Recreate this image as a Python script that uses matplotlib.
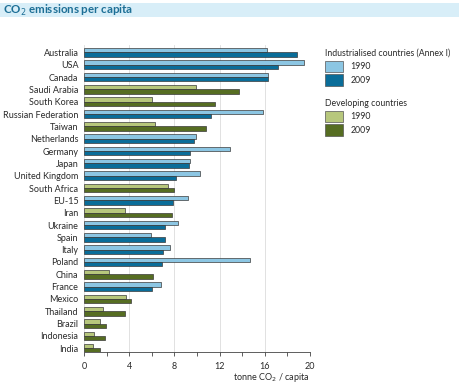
import matplotlib
matplotlib.use('Agg')
import matplotlib.pyplot as plt
import matplotlib.patches as mpatches
import numpy as np

plt.rcParams['font.family'] = ['Lato', 'DejaVu Sans']

# --- DATA ---
countries = ['Australia', 'USA', 'Canada', 'Saudi Arabia', 'South Korea', 'Russian Federation',
             'Taiwan', 'Netherlands', 'Germany', 'Japan', 'United Kingdom', 'South Africa',
             'EU-15', 'Iran', 'Ukraine', 'Spain', 'Italy', 'Poland', 'China', 'France',
             'Mexico', 'Thailand', 'Brazil', 'Indonesia', 'India']
developing = ['Saudi Arabia', 'South Korea', 'Taiwan', 'South Africa', 'Iran', 'China',
              'Mexico', 'Thailand', 'Brazil', 'Indonesia', 'India']
values_1990 = [16.2, 19.5, 16.3, 9.9, 6.0, 15.8, 6.3, 9.9, 12.9, 9.4, 10.3, 7.4,
               9.2, 3.6, 8.3, 5.9, 7.6, 14.7, 2.2, 6.8, 3.7, 1.7, 1.45, 0.9, 0.8]
values_2009 = [18.85, 17.2, 16.3, 13.7, 11.6, 11.2, 10.8, 9.7, 9.35, 9.3, 8.1, 8.0,
               7.9, 7.75, 7.2, 7.2, 7.0, 6.9, 6.1, 6.0, 4.2, 3.6, 1.95, 1.85, 1.45]

IND_1990, IND_2009 = '#8cc6e3', '#0a6d99'
DEV_1990, DEV_2009 = '#b7c77c', '#566d22'
EDGE = '#3a3a3a'
TITLE_COL = '#1d6f96'
TXT = '#2a2a2a'
FS = 6.5
LFS = 6.3

fig = plt.figure(figsize=(4.6, 3.92), dpi=100)

# title band
fig.patches.append(mpatches.Rectangle((0, 1 - 17 / 392), 1, 14 / 392, transform=fig.transFigure,
                                      facecolor='#d8eef8', edgecolor='none'))
fig.text(0.007, 1 - 10 / 392, 'CO$_2$ emissions per capita', fontsize=8.3, fontweight='bold',
         color=TITLE_COL, va='center', ha='left')

ax = fig.add_axes([84 / 460, 1 - 352 / 392, 226 / 460, 307 / 392])

n = len(countries)
ypos = np.arange(n)[::-1]
h = 0.36
c90 = [DEV_1990 if c in developing else IND_1990 for c in countries]
c09 = [DEV_2009 if c in developing else IND_2009 for c in countries]
ax.barh(ypos + h / 2, values_1990, height=h, color=c90, edgecolor=EDGE, linewidth=0.5)
ax.barh(ypos - h / 2, values_2009, height=h, color=c09, edgecolor=EDGE, linewidth=0.5)

ax.set_xlim(0, 20)
ax.set_ylim(-0.3, n - 1 + 0.6)
ax.set_yticks(ypos)
ax.set_yticklabels(countries, fontsize=FS, color=TXT)
ax.tick_params(axis='y', length=0, pad=4)
ax.set_xticks([0, 4, 8, 12, 16, 20])
ax.set_xticks([2, 6, 10, 14, 18], minor=True)
ax.tick_params(axis='x', which='both', direction='out', length=3, width=0.6,
               color='#444444', labelsize=FS, labelcolor=TXT, pad=4)
ax.grid(axis='x', color='#dcdcdc', linewidth=0.6)
ax.set_axisbelow(True)
for s in ['top', 'right', 'left']:
    ax.spines[s].set_visible(False)
ax.spines['bottom'].set_color('#444444')
ax.spines['bottom'].set_linewidth(0.6)

fig.text(310 / 460, 1 - 377 / 392, 'tonne CO$_2$ / capita', fontsize=FS, color=TXT,
         ha='right', va='center')

# legends
def patch(col):
    return mpatches.Patch(facecolor=col, edgecolor='#555555', linewidth=0.5)

common = dict(loc='upper left', frameon=False, fontsize=LFS, title_fontsize=LFS,
              alignment='left', handlelength=2.0, handleheight=1.6,
              labelspacing=0.3, handletextpad=0.9, borderaxespad=0, borderpad=0)
leg1 = fig.legend([patch(IND_1990), patch(IND_2009)], ['1990', '2009'],
                  title='Industrialised countries (Annex I)',
                  bbox_to_anchor=(325 / 460, 1 - 49 / 392), **common)
leg2 = fig.legend([patch(DEV_1990), patch(DEV_2009)], ['1990', '2009'],
                  title='Developing countries',
                  bbox_to_anchor=(325 / 460, 1 - 99 / 392), **common)
for lg in (leg1, leg2):
    lg.get_title().set_color(TXT)
    for t in lg.get_texts():
        t.set_color(TXT)

fig.savefig('out.png', dpi=100)
